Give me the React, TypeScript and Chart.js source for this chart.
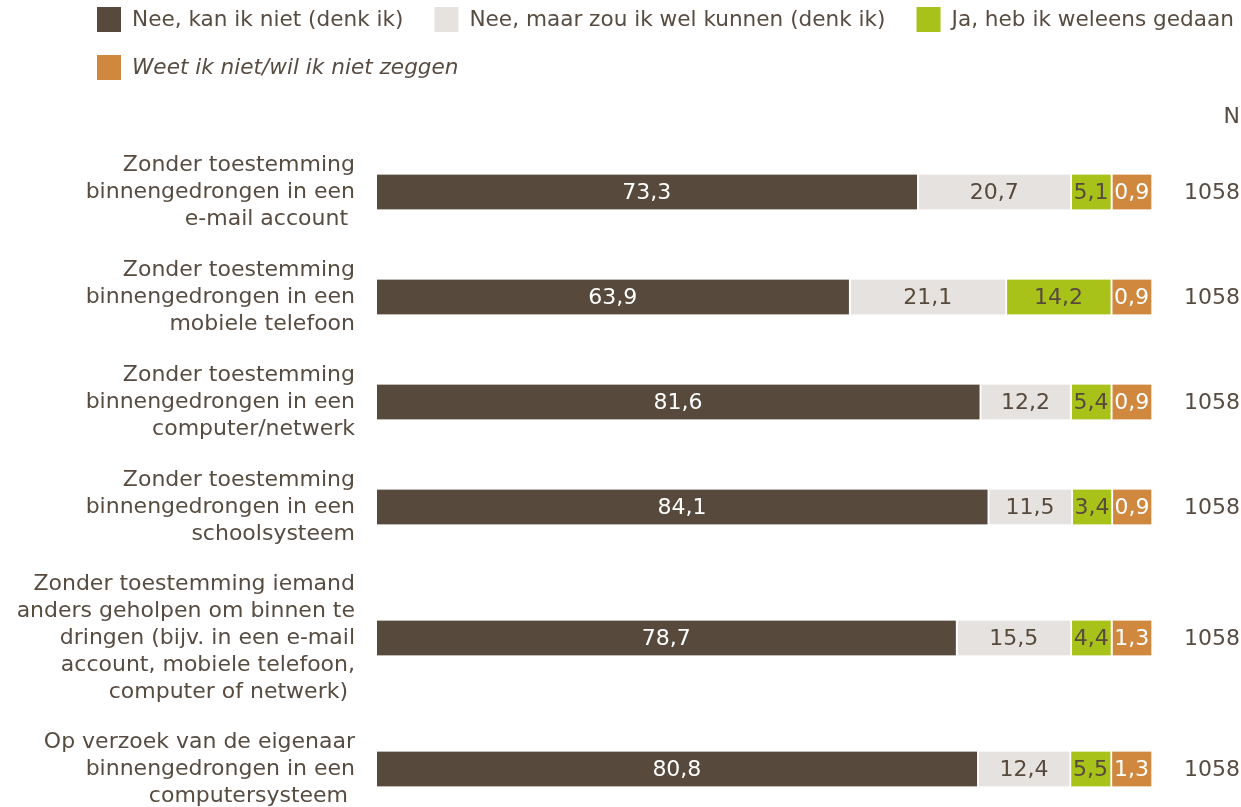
import React, { useEffect, useRef } from "react";
import { Chart, registerables } from "chart.js";

Chart.register(...registerables);

// ---- data ----
const categories: string[][] = [
  ["Zonder toestemming", "binnengedrongen in een", "e-mail account "],
  ["Zonder toestemming", "binnengedrongen in een", "mobiele telefoon"],
  ["Zonder toestemming", "binnengedrongen in een", "computer/netwerk"],
  ["Zonder toestemming", "binnengedrongen in een", "schoolsysteem"],
  [
    "Zonder toestemming iemand",
    "anders geholpen om binnen te",
    "dringen (bijv. in een e-mail",
    "account, mobiele telefoon,",
    "computer of netwerk) ",
  ],
  ["Op verzoek van de eigenaar", "binnengedrongen in een", "computersysteem "],
];

const seriesNames = [
  "Nee, kan ik niet (denk ik)",
  "Nee, maar zou ik wel kunnen (denk ik)",
  "Ja, heb ik weleens gedaan",
  "Weet ik niet/wil ik niet zeggen",
];

const kanNiet = [73.3, 63.9, 81.6, 84.1, 78.7, 80.8];
const zouWel = [20.7, 21.1, 12.2, 11.5, 15.5, 12.4];
const weleens = [5.1, 14.2, 5.4, 3.4, 4.4, 5.5];
const weetNiet = [0.9, 0.9, 0.9, 0.9, 1.3, 1.3];

const nValues = [1058, 1058, 1058, 1058, 1058, 1058];
const nHeader = "N";

// ---- styles ----
const COLORS = ["#574a3d", "#e6e2df", "#a9c21a", "#d0883f"];
const LABEL_COLORS = ["#ffffff", "#574a3d", "#574a3d", "#ffffff"];
const TEXT = "#584c41";
const FONT = "DejaVu Sans";
const FS = 22;
const LEGEND_FS = 21.6;
const MIN_SHARE = 5.5; // small segments get a minimum visible width, as in the source chart

const series = [kanNiet, zouWel, weleens, weetNiet];

// row band sizes depend on how many lines the label has
const bands = categories.map((l) => Math.max(l.length, 3) * 26 + 27);
const centers: number[] = [];
{
  let acc = 0;
  bands.forEach((b) => {
    centers.push(acc + b / 2);
    acc += b;
  });
}
const totalBand = bands.reduce((a, b) => a + b, 0);

// display widths: each segment at least MIN_SHARE, row normalised to 100
const displayed = series.map((s) =>
  s.map((v, ri) => {
    const row = series.map((x) => Math.max(x[ri], MIN_SHARE));
    const sum = row.reduce((a, b) => a + b, 0);
    return (Math.max(v, MIN_SHARE) / sum) * 100;
  })
);

const fmt = (v: number) => v.toFixed(1).replace(".", ",");

const valueLabels = {
  id: "valueLabels",
  afterDatasetsDraw(chart: any) {
    const ctx = chart.ctx;
    ctx.save();
    ctx.font = `${FS}px "${FONT}"`;
    ctx.textAlign = "center";
    ctx.textBaseline = "middle";
    chart.data.datasets.forEach((_ds: any, di: number) => {
      const meta = chart.getDatasetMeta(di);
      meta.data.forEach((el: any, i: number) => {
        const cx = (el.x + el.base) / 2 - 1;
        ctx.fillStyle = LABEL_COLORS[di];
        ctx.fillText(fmt(series[di][i]), cx, el.y + 1);
      });
    });
    ctx.restore();
  },
};

const sideText = {
  id: "sideText",
  afterDraw(chart: any) {
    const ctx = chart.ctx;
    const yScale = chart.scales.y;
    ctx.save();
    ctx.font = `${FS}px "${FONT}"`;
    ctx.fillStyle = TEXT;
    ctx.textAlign = "right";
    ctx.textBaseline = "middle";
    const rx = chart.width - 1;
    ctx.fillText(nHeader, rx, 117);
    nValues.forEach((n, i) => {
      ctx.fillText(String(n), rx, yScale.getPixelForValue(centers[i]) + 1);
    });

    // legend
    let x = 97;
    let y = 19.5;
    const box = 24;
    const gapText = 11;
    const gapItem = 31;
    seriesNames.forEach((name, i) => {
      const italic = i === 3;
      ctx.font = `${italic ? "italic " : ""}${LEGEND_FS}px "${FONT}"`;
      const w = box + gapText + ctx.measureText(name).width;
      if (x + w > chart.width + 6 && x > 97) {
        x = 97;
        y += 48;
      }
      ctx.fillStyle = COLORS[i];
      ctx.fillRect(x, y - 12.5, box, 25);
      ctx.fillStyle = TEXT;
      ctx.textAlign = "left";
      ctx.fillText(name, x + box + gapText, y + 1);
      x += w + gapItem;
    });
    ctx.restore();
  },
};

export default function App() {
  const ref = useRef<HTMLCanvasElement>(null);
  useEffect(() => {
    if (!ref.current) return;
    const chart = new Chart(ref.current, {
      type: "bar",
      data: {
        datasets: seriesNames.map((name, si) => ({
          label: name,
          data: displayed[si].map((v, ri) => ({ x: v, y: centers[ri] })),
          backgroundColor: COLORS[si],
          borderColor: "#ffffff",
          borderWidth: { top: 0, bottom: 0, left: 0, right: 2 },
          borderSkipped: false,
          barThickness: 35,
        })),
      },
      plugins: [valueLabels, sideText],
      options: {
        indexAxis: "y",
        animation: false,
        responsive: false,
        maintainAspectRatio: false,
        layout: { padding: { top: 139.5, bottom: 8.5, right: 88, left: 0 } },
        plugins: { legend: { display: false }, tooltip: { enabled: false } },
        scales: {
          x: { stacked: true, min: 0, max: 100, display: false },
          y: {
            type: "linear",
            stacked: true,
            reverse: true,
            offset: false,
            min: 0,
            max: totalBand,
            afterBuildTicks: (s: any) => {
              s.ticks = centers.map((v) => ({ value: v }));
            },
            afterFit: (s: any) => {
              s.width = 377;
              s.paddingTop = 0;
              s.paddingBottom = 0;
            },
            grid: { display: false, drawTicks: false, offset: false },
            border: { display: false },
            ticks: {
              autoSkip: false,
              padding: 22,
              color: TEXT,
              font: { family: FONT, size: FS, lineHeight: 27 / 22 },
              callback: (_v: any, i: number) => categories[i],
            },
          },
        },
      } as any,
    });
    return () => chart.destroy();
  }, []);
  return (
    <div
      style={{
        position: "fixed",
        left: 0,
        top: 0,
        width: 1241,
        height: 807,
        overflow: "hidden",
        background: "#fff",
      }}
    >
      <canvas ref={ref} width={1241} height={830} style={{ display: "block", width: 1241, height: 830 }} />
    </div>
  );
}
